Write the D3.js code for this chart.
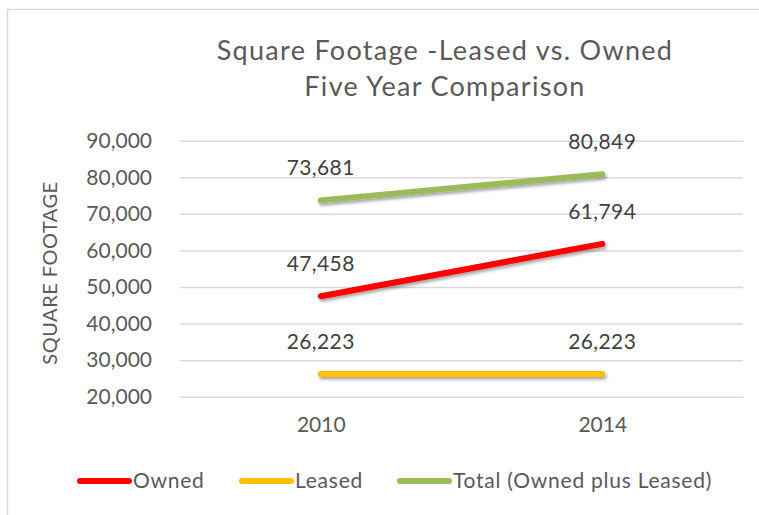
<!DOCTYPE html>
<html>
<head>
<meta charset="utf-8">
<script src="https://cdn.jsdelivr.net/npm/d3@7"></script>
<style>
  body { margin: 0; background: #fff; }
  text { font-family: Lato, "Open Sans", sans-serif; }
</style>
</head>
<body>
<div id="chart"></div>
<script>
  // chart data
  var years = ["2010", "2014"];
  var owned = [47458, 61794];
  var leased = [26223, 26223];
  var total = [73681, 80849];
  var seriesNames = ["Owned", "Leased", "Total (Owned plus Leased)"];
  var yTicks = [20000, 30000, 40000, 50000, 60000, 70000, 80000, 90000];

  var width = 759,
      height = 515;

  var svg = d3.select("#chart")
    .append("svg")
      .attr("width", width)
      .attr("height", height);

  // soft shadow under the lines (user space so the flat line keeps it)
  var defs = svg.append("defs");
  defs.append("filter")
      .attr("id", "shadow")
      .attr("filterUnits", "userSpaceOnUse")
      .attr("x", 0).attr("y", 0)
      .attr("width", width).attr("height", height)
    .append("feDropShadow")
      .attr("dx", 1.5).attr("dy", 2.5)
      .attr("stdDeviation", 1.5)
      .attr("flood-color", "#000")
      .attr("flood-opacity", 0.35);

  // chart frame (only left and top edges visible)
  svg.append("rect")
      .attr("x", 7.5).attr("y", 9.5)
      .attr("width", 900).attr("height", 700)
      .attr("fill", "none")
      .attr("stroke", "#d9d9d9")
      .attr("stroke-width", 1.5);

  var x = d3.scalePoint()
      .domain(years)
      .range([180, 743])
      .padding(0.5);

  var y = d3.scaleLinear()
      .domain([20000, 90000])
      .range([396.7, 140.7]);

  var fmt = d3.format(",");

  // title
  var title = svg.append("text")
      .attr("text-anchor", "middle")
      .attr("fill", "#595959")
      .attr("font-size", 27)
      .attr("letter-spacing", 1.3);
  title.append("tspan").attr("x", 445).attr("y", 60).text("Square Footage -Leased vs. Owned");
  title.append("tspan").attr("x", 445).attr("y", 96).text("Five Year Comparison");

  // grid lines + y labels
  var yAxis = d3.axisLeft(y)
      .tickValues(yTicks)
      .tickSize(-(743 - 180))
      .tickPadding(28)
      .tickFormat(fmt);

  var gy = svg.append("g")
      .attr("transform", "translate(180,0)")
      .call(yAxis);
  gy.select(".domain").remove();
  gy.selectAll(".tick line")
      .attr("stroke", "#d9d9d9")
      .attr("stroke-width", 1.5);
  gy.selectAll(".tick text")
      .attr("fill", "#595959")
      .attr("font-size", 21)
      .attr("font-family", "Lato, sans-serif");

  // x labels
  var xAxis = d3.axisBottom(x).tickSize(0).tickPadding(0);
  var gx = svg.append("g")
      .attr("transform", "translate(0,417)")
      .call(xAxis);
  gx.select(".domain").remove();
  gx.selectAll(".tick text")
      .attr("fill", "#595959")
      .attr("font-size", 21)
      .attr("font-family", "Lato, sans-serif");

  // y axis title
  svg.append("text")
      .attr("transform", "translate(57,273) rotate(-90)")
      .attr("text-anchor", "middle")
      .attr("fill", "#595959")
      .attr("font-size", 20)
      .attr("letter-spacing", 0.5)
      .text("SQUARE FOOTAGE");

  var series = [
    { name: seriesNames[0], values: owned, color: "#ff0000" },
    { name: seriesNames[1], values: leased, color: "#ffc000" },
    { name: seriesNames[2], values: total, color: "#9bbb59" }
  ];

  var line = d3.line()
      .x(function(d, i) { return x(years[i]); })
      .y(function(d) { return y(d); });

  svg.selectAll(".series")
      .data(series)
    .enter().append("path")
      .attr("class", "series")
      .attr("d", function(d) { return line(d.values); })
      .attr("fill", "none")
      .attr("stroke", function(d) { return d.color; })
      .attr("stroke-width", 6)
      .attr("stroke-linecap", "round")
      .attr("filter", "url(#shadow)");

  // data labels
  series.forEach(function(s) {
    svg.selectAll(null)
        .data(s.values)
      .enter().append("text")
        .attr("x", function(d, i) { return x(years[i]); })
        .attr("y", function(d) { return y(d) - 25; })
        .attr("text-anchor", "middle")
        .attr("fill", "#404040")
        .attr("font-size", 21)
        .attr("letter-spacing", 0.4)
        .text(function(d) { return fmt(d); });
  });

  // legend
  var legendX = [78, 240, 398];
  var lg = svg.selectAll(".legend")
      .data(series)
    .enter().append("g")
      .attr("class", "legend")
      .attr("transform", function(d, i) { return "translate(" + legendX[i] + ",481)"; });
  lg.append("line")
      .attr("x1", 2).attr("x2", 51)
      .attr("stroke", function(d) { return d.color; })
      .attr("stroke-width", 6)
      .attr("stroke-linecap", "round");
  lg.append("text")
      .attr("x", 55)
      .attr("y", 7)
      .attr("fill", "#595959")
      .attr("font-size", 21)
      .attr("letter-spacing", 0.75)
      .text(function(d) { return d.name; });
</script>
</body>
</html>
